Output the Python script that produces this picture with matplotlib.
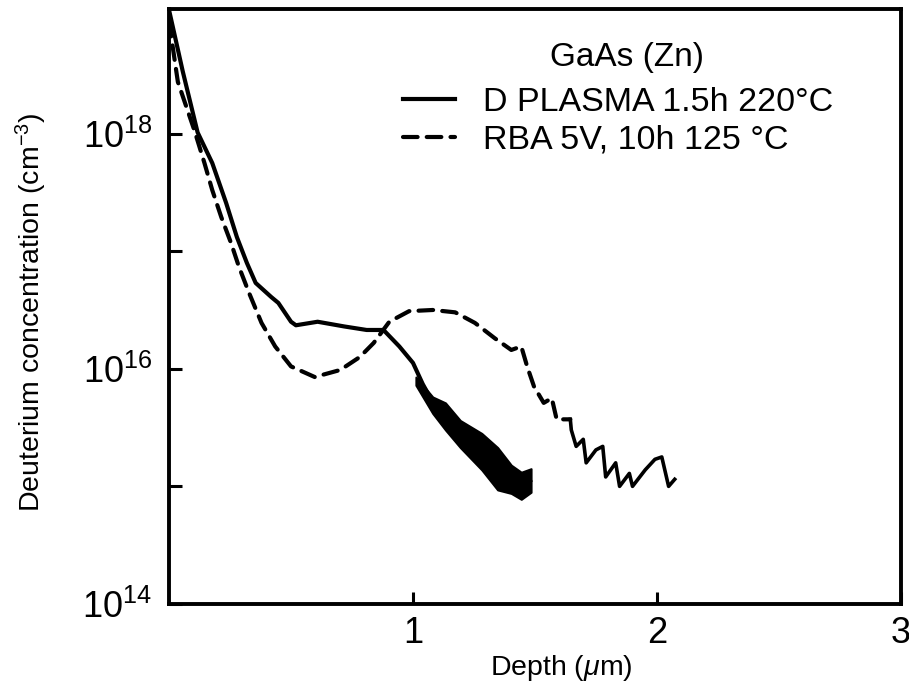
import matplotlib
matplotlib.use("Agg")
import matplotlib.pyplot as plt
import numpy as np

plt.rcParams['font.family'] = ['Liberation Sans', 'DejaVu Sans']
plt.rcParams['mathtext.fontset'] = 'custom'
plt.rcParams['mathtext.rm'] = 'Liberation Sans'
plt.rcParams['mathtext.it'] = 'Liberation Sans:italic'

# D plasma 1.5h 220C (depth um, log10 concentration)
plasma_x = [0.0, 0.056, 0.117, 0.177, 0.234, 0.278, 0.319, 0.355, 0.419, 0.448, 0.50, 0.52,
            0.609, 0.718, 0.81, 0.879, 0.944, 1.0, 1.04, 1.08, 1.12, 1.16, 1.20,
            1.24, 1.28, 1.32, 1.36, 1.40, 1.44, 1.48]
plasma_log = [19.05, 18.53, 18.01, 17.75, 17.41, 17.12, 16.90, 16.73, 16.61, 16.56, 16.40, 16.37,
              16.40, 16.36, 16.33, 16.33, 16.19, 16.05, 15.87, 15.72, 15.61, 15.50, 15.42,
              15.32, 15.28, 15.15, 15.10, 15.05, 15.01, 15.05]
# noisy band of the plasma profile
band_x = [1.012, 1.081, 1.133, 1.194, 1.282, 1.347, 1.403, 1.444, 1.484]
band_top = [15.93, 15.76, 15.71, 15.56, 15.45, 15.33, 15.18, 15.12, 15.15]
band_bot = [15.86, 15.62, 15.48, 15.33, 15.14, 14.97, 14.94, 14.89, 14.95]

# RBA 5V, 10h 125C
rba_x = [0.0, 0.036, 0.105, 0.145, 0.177, 0.214, 0.254, 0.286, 0.327, 0.379, 0.435, 0.50, 0.597,
         0.702, 0.782, 0.839, 0.903, 0.984, 1.081, 1.173, 1.254, 1.335, 1.403, 1.444,
         1.468, 1.496, 1.536, 1.569, 1.589, 1.645]
rba_log = [18.95, 18.44, 18.02, 17.75, 17.52, 17.29, 17.07, 16.87, 16.65, 16.39, 16.19, 16.02, 15.93,
           15.99, 16.10, 16.22, 16.40, 16.49, 16.50, 16.48, 16.39, 16.26, 16.16, 16.19,
           16.02, 15.85, 15.71, 15.75, 15.57, 15.57]
rba_tail_x = [1.645, 1.649, 1.669, 1.698, 1.710, 1.75, 1.778, 1.79, 1.831, 1.847, 1.887,
              1.90, 1.952, 1.992, 2.02, 2.048, 2.073]
rba_tail_log = [15.57, 15.48, 15.34, 15.40, 15.20, 15.31, 15.34, 15.08, 15.20, 15.00, 15.11,
                15.00, 15.14, 15.23, 15.25, 15.00, 15.06]

fig = plt.figure(figsize=(9.09, 6.91), dpi=100)
ax = fig.add_axes([0.186, 0.126, 0.805, 0.861])

lw = 3.0
ax.plot(plasma_x, 10**np.array(plasma_log), color='black', lw=lw,
        solid_joinstyle='round', label='D PLASMA 1.5h 220°C')
ax.fill_between(band_x, 10**np.array(band_bot), 10**np.array(band_top),
                color='black', lw=1.5)
ax.plot(rba_x, 10**np.array(rba_log), color='black', lw=lw, dashes=(3.5, 2.2),
        dash_capstyle='round', label='RBA 5V, 10h 125 °C')
ax.plot(rba_tail_x, 10**np.array(rba_tail_log), color='black', lw=2.6,
        solid_joinstyle='round')

ax.set_yscale('log')
ax.set_xlim(0, 3)
ax.set_ylim(1e14, 10**19.06)
ax.set_xticks([1, 2, 3])
ax.set_xticklabels(['1', '2', '3'])
ax.set_yticks([1e14, 1e16, 1e18])
ax.set_yticklabels([r'$10^{14}$', r'$10^{16}$', r'$10^{18}$'])
ax.set_yticks([1e15, 1e17], minor=True)
ax.yaxis.set_minor_formatter(matplotlib.ticker.NullFormatter())
ax.tick_params(axis='both', which='both', direction='in', length=9, width=2.2,
               labelsize=26)
ax.tick_params(axis='y', which='major', pad=12)
ax.tick_params(axis='x', which='major', pad=9)
ax.tick_params(top=False, right=False)
for s in ax.spines.values():
    s.set_linewidth(2.8)

ax.set_xlabel(r'Depth ($\mu$m)', fontsize=20.5)
ax.xaxis.set_label_coords(0.536, -0.083)
ax.set_ylabel(r'Deuterium concentration (cm$^{-3}$)', fontsize=20.5)
ax.yaxis.set_label_coords(-0.164, 0.49)

ax.text(0.626, 0.919, 'GaAs (Zn)', transform=ax.transAxes, ha='center',
        va='center', fontsize=24)
leg = ax.legend(loc='upper left', bbox_to_anchor=(0.320, 0.869),
                frameon=False, fontsize=24.5, handlelength=1.53,
                handletextpad=0.82, labelspacing=0.2, borderaxespad=0,
                borderpad=0)

fig.savefig('out.png', dpi=100)
